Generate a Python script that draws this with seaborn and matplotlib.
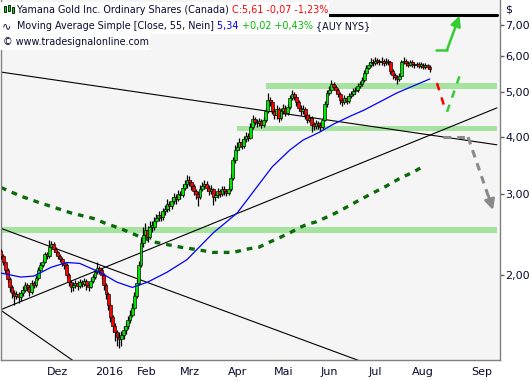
import numpy as np
import pandas as pd
import matplotlib
matplotlib.use("Agg")
import matplotlib.pyplot as plt
import seaborn as sns
from matplotlib.patches import Rectangle
from matplotlib.transforms import ScaledTranslation

# ---------------- data ----------------
open_first = 2.26
close = [2.20, 2.13, 2.05, 1.96, 1.88, 1.83, 1.80, 1.82, 1.79, 1.83,
         1.86, 1.90, 1.88, 1.84, 1.92, 1.90, 1.97, 2.05, 2.10, 2.14,
         2.22, 2.20, 2.30, 2.34, 2.28, 2.24, 2.20, 2.17, 2.12, 2.10,
         2.00, 1.93, 1.88, 1.90, 1.92, 1.89, 1.93, 1.91, 1.94, 1.90,
         1.88, 1.94, 1.98, 2.03, 2.07, 2.05, 2.00, 1.90, 1.82, 1.72,
         1.62, 1.55, 1.50, 1.47, 1.45, 1.48, 1.52, 1.55, 1.60, 1.64,
         1.70, 1.80, 1.92, 2.10, 2.35, 2.45, 2.50, 2.42, 2.55, 2.55,
         2.62, 2.66, 2.70, 2.68, 2.75, 2.78, 2.85, 2.82, 2.90, 2.96,
         2.93, 3.00, 2.98, 3.10, 3.15, 3.22, 3.18, 3.12, 3.05, 3.00,
         2.95, 3.08, 3.12, 3.15, 3.10, 3.05, 3.08, 2.95, 2.98, 3.05,
         3.00, 3.08, 3.04, 3.02, 3.08, 3.25, 3.55, 3.75, 3.80, 3.90,
         3.82, 3.95, 4.02, 3.98, 4.20, 4.38, 4.30, 4.28, 4.32, 4.25,
         4.35, 4.55, 4.80, 4.75, 4.55, 4.45, 4.60, 4.40, 4.55, 4.62,
         4.50, 4.65, 4.85, 4.95, 4.88, 4.75, 4.62, 4.55, 4.60, 4.45,
         4.35, 4.40, 4.25, 4.22, 4.28, 4.25, 4.20, 4.35, 4.70, 4.98,
         5.05, 5.20, 5.12, 5.05, 4.95, 4.80, 4.75, 4.85, 4.78, 4.90,
         4.95, 5.02, 5.05, 5.15, 5.20, 5.30, 5.50, 5.65, 5.72, 5.80,
         5.78, 5.85, 5.82, 5.80, 5.84, 5.78, 5.82, 5.80, 5.55, 5.45,
         5.40, 5.35, 5.42, 5.80, 5.85, 5.78, 5.74, 5.80, 5.76, 5.72,
         5.75, 5.70, 5.74, 5.68, 5.72, 5.66, 5.61]
high = [2.28, 2.22, 2.15, 2.07, 1.98, 1.90, 1.86, 1.85, 1.84, 1.86,
        1.89, 1.93, 1.92, 1.90, 1.95, 1.94, 2.00, 2.08, 2.13, 2.17,
        2.25, 2.25, 2.38, 2.37, 2.36, 2.30, 2.26, 2.22, 2.19, 2.14,
        2.12, 2.02, 1.95, 1.93, 1.95, 1.94, 1.96, 1.95, 1.97, 1.96,
        1.92, 1.97, 2.01, 2.06, 2.13, 2.09, 2.07, 2.02, 1.92, 1.84,
        1.74, 1.64, 1.57, 1.52, 1.50, 1.51, 1.55, 1.58, 1.63, 1.68,
        1.74, 1.84, 1.96, 2.15, 2.42, 2.55, 2.60, 2.56, 2.62, 2.62,
        2.68, 2.72, 2.76, 2.74, 2.80, 2.84, 2.92, 2.90, 2.96, 3.02,
        3.00, 3.06, 3.05, 3.16, 3.22, 3.30, 3.28, 3.22, 3.16, 3.08,
        3.04, 3.14, 3.18, 3.22, 3.20, 3.14, 3.14, 3.10, 3.04, 3.10,
        3.08, 3.12, 3.12, 3.08, 3.12, 3.32, 3.62, 3.84, 3.90, 3.98,
        3.95, 4.02, 4.10, 4.08, 4.28, 4.45, 4.42, 4.36, 4.40, 4.38,
        4.42, 4.62, 4.98, 4.88, 4.80, 4.62, 4.68, 4.64, 4.62, 4.70,
        4.68, 4.72, 4.92, 5.05, 5.00, 4.92, 4.80, 4.68, 4.68, 4.64,
        4.50, 4.48, 4.44, 4.30, 4.34, 4.32, 4.30, 4.42, 4.78, 5.05,
        5.15, 5.30, 5.26, 5.18, 5.10, 5.00, 4.86, 4.92, 4.90, 4.98,
        5.02, 5.10, 5.12, 5.22, 5.28, 5.38, 5.58, 5.74, 5.82, 5.92,
        5.90, 5.95, 5.94, 5.90, 5.95, 5.90, 5.92, 5.90, 5.84, 5.60,
        5.50, 5.45, 5.50, 5.88, 5.95, 5.90, 5.84, 5.88, 5.86, 5.82,
        5.82, 5.80, 5.82, 5.78, 5.78, 5.76, 5.72]
low = [2.17, 2.10, 2.02, 1.93, 1.84, 1.78, 1.72, 1.77, 1.74, 1.76,
       1.80, 1.84, 1.85, 1.80, 1.82, 1.87, 1.88, 1.95, 2.03, 2.08,
       2.12, 2.17, 2.18, 2.27, 2.25, 2.21, 2.17, 2.14, 2.09, 2.06,
       1.97, 1.89, 1.84, 1.85, 1.87, 1.86, 1.87, 1.88, 1.89, 1.86,
       1.85, 1.87, 1.92, 1.96, 2.01, 2.01, 1.96, 1.86, 1.77, 1.68,
       1.58, 1.50, 1.44, 1.40, 1.39, 1.40, 1.45, 1.49, 1.53, 1.57,
       1.62, 1.68, 1.78, 1.90, 2.08, 2.30, 2.40, 2.36, 2.40, 2.48,
       2.50, 2.58, 2.62, 2.62, 2.64, 2.70, 2.74, 2.76, 2.78, 2.86,
       2.86, 2.90, 2.92, 2.95, 3.06, 3.10, 3.12, 3.06, 2.98, 2.92,
       2.82, 2.92, 3.04, 3.08, 3.04, 2.98, 3.00, 2.84, 2.90, 2.94,
       2.95, 2.97, 2.99, 2.97, 2.98, 3.05, 3.22, 3.50, 3.70, 3.74,
       3.76, 3.78, 3.90, 3.92, 3.95, 4.15, 4.24, 4.20, 4.22, 4.18,
       4.20, 4.30, 4.50, 4.66, 4.48, 4.38, 4.38, 4.30, 4.34, 4.48,
       4.44, 4.45, 4.60, 4.80, 4.80, 4.66, 4.55, 4.46, 4.48, 4.36,
       4.28, 4.30, 4.10, 4.14, 4.16, 4.16, 4.12, 4.16, 4.32, 4.65,
       4.92, 5.00, 5.05, 4.98, 4.88, 4.72, 4.66, 4.70, 4.70, 4.74,
       4.85, 4.90, 4.96, 5.00, 5.10, 5.15, 5.25, 5.45, 5.60, 5.68,
       5.70, 5.72, 5.75, 5.72, 5.74, 5.70, 5.72, 5.72, 5.48, 5.35,
       5.30, 5.20, 5.28, 5.40, 5.75, 5.70, 5.66, 5.70, 5.68, 5.65,
       5.66, 5.64, 5.64, 5.60, 5.62, 5.60, 5.54]

ma55_idx = [0, 9, 15, 23, 30, 36, 45, 53, 60, 67, 76, 85, 97, 108, 117, 124,
            132, 138, 146, 152, 160, 166, 181, 196]
ma55_val = [2.02, 1.98, 1.99, 2.08, 2.13, 2.12, 2.03, 1.93, 1.88, 1.93, 2.03,
            2.16, 2.47, 2.73, 3.11, 3.44, 3.74, 3.93, 4.10, 4.26, 4.44, 4.57,
            4.98, 5.34]
ma200_idx = [0, 9, 17, 24, 32, 43, 47, 55, 62, 70, 82, 90, 97, 106, 113, 118,
             122, 128, 132, 136, 140, 144, 151, 155, 162, 169, 176, 182, 189, 194]
ma200_val = [3.10, 2.97, 2.88, 2.81, 2.73, 2.65, 2.60, 2.52, 2.44, 2.36, 2.30,
             2.27, 2.24, 2.24, 2.28, 2.30, 2.35, 2.42, 2.47, 2.53, 2.58, 2.61,
             2.70, 2.76, 2.88, 3.00, 3.12, 3.24, 3.36, 3.47]

month_pos = [20, 42, 61, 81, 103, 124, 145, 167, 187, 214]
month_labels = ["Dez", "2016", "Feb", "Mrz", "Apr", "Mai", "Jun", "Jul", "Aug", "Sep"]
price_ticks = [2, 3, 4, 5, 6, 7]
price_labels = ["2,00", "3,00", "4,00", "5,00", "6,00", "7,00"]

# zones: (low, high, start index)
zone_low = [5.08, 4.12, 2.47]
zone_high = [5.23, 4.22, 2.54]
zone_start = [121, 108, -1]

# trend lines: (x0, p0, x1, p1)
trend_lines = [(-0.3, 5.53, 226.7, 3.84),
               (-0.3, 2.53, 164.2, 1.30),
               (-0.3, 1.68, 36.3, 1.27),
               (-0.3, 1.68, 226.7, 4.62)]
top_level = 7.36

# ---------------- figure ----------------
W, H = 532, 380
sns.set_style("white")
plt.rcParams["font.family"] = ["DejaVu Sans"]
fig = plt.figure(figsize=(W / 100, H / 100), dpi=100)
fig.patch.set_facecolor("white")
ax = fig.add_axes([0.5 / W, 20 / H, 499.5 / W, 360 / H])
ax.set_facecolor("#f5f5f5")
ax.set_yscale("log")
XMIN, XMAX = -0.23, 228.1
ax.set_xlim(XMIN, XMAX)
ax.set_ylim(1.307, 7.93)

XR = 226.9
# support/resistance zones
for lo, hi, st in zip(zone_low, zone_high, zone_start):
    ax.fill_between([st, XR], [lo, lo], [hi, hi], color="#a6e3a0", lw=0, zorder=1)

# trend lines
for x0, p0, x1, p1 in trend_lines:
    ax.plot([x0, x1], [p0, p1], color="black", lw=0.8, zorder=2)
ax.plot([-0.3, XR], [top_level, top_level], color="black", lw=2.2, zorder=2)

# 200 MA (dark green dotted)
sns.lineplot(x=ma200_idx, y=ma200_val, ax=ax, color="#0b6b0b", lw=2.4,
             linestyle=(0, (1.7, 1.8)), estimator=None, sort=False, zorder=2)
# 55 MA (blue)
sns.lineplot(x=ma55_idx, y=ma55_val, ax=ax, color="#0000ff", lw=0.9,
             estimator=None, sort=False, zorder=5)

# candles
n = len(close)
opens = [open_first] + close[:-1]
df = pd.DataFrame({"i": np.arange(n), "open": opens, "close": close,
                   "high": high, "low": low})
up = df["close"] >= df["open"]
ax.vlines(df["i"], df["low"], df["high"], color="black", lw=0.9, zorder=3)
bot = np.minimum(df["open"], df["close"])
top = np.maximum(df["open"], df["close"])
hgt = np.maximum(top - bot, bot * 0.008)
ax.bar(df["i"], hgt, bottom=bot, width=1.3,
       color=np.where(up, "#00e600", "#ff0000"), edgecolor="black",
       linewidth=0.45, zorder=4)

# scenario arrows
g = "#33cc33"
ax.plot([198.9, 203.9], [6.18, 6.18], color=g, lw=1.8, zorder=6)
ax.annotate("", xy=(209.6, 7.33), xytext=(203.9, 6.18),
            arrowprops=dict(arrowstyle="-|>,head_length=0.6,head_width=0.3",
                            color=g, lw=1.8, shrinkA=0, shrinkB=0), zorder=6)
ax.plot([199.3, 203.4], [5.23, 4.53], color="#ff0000", lw=1.8,
        linestyle=(0, (3, 3)), zorder=6)
ax.plot([203.9, 209.8], [4.53, 5.45], color=g, lw=1.8,
        linestyle=(0, (3, 3)), zorder=6)
gr = "#8a8a8a"
ax.plot([202.1, 213.5], [3.99, 3.99], color=gr, lw=2.2, linestyle=(0, (2.5, 2)), zorder=6)
ax.plot([213.5, 223.5], [3.99, 2.90], color=gr, lw=2.2, linestyle=(0, (2.5, 2)), zorder=6)
ax.annotate("", xy=(224.9, 2.77), xytext=(223.0, 2.96),
            arrowprops=dict(arrowstyle="-|>,head_length=0.6,head_width=0.3",
                            color=gr, lw=2.0, shrinkA=0, shrinkB=0), zorder=6)

# axes styling
for s in ["left", "right", "bottom"]:
    ax.spines[s].set_color("#808080")
    ax.spines[s].set_linewidth(1)
ax.spines["top"].set_visible(False)

fs = 8.0
tc = "#0a0a30"
ax.yaxis.tick_right()
ax.set_yticks(price_ticks)
ax.set_yticklabels(price_labels)
ax.yaxis.set_minor_locator(matplotlib.ticker.NullLocator())
ax.tick_params(axis="y", which="major", direction="out", length=3, width=1,
               color="#606060", labelsize=fs, labelcolor=tc, pad=1)
ax.set_xticks(month_pos)
ax.set_xticklabels(month_labels, ha="left")
ax.tick_params(axis="x", direction="out", length=4, width=1, color="#404040",
               labelsize=fs, labelcolor=tc, pad=1)
shift = ScaledTranslation(2 / 100, 0, fig.dpi_scale_trans)
for lab in ax.get_xticklabels():
    lab.set_transform(lab.get_transform() + shift)
ax.set_xlabel("")
ax.set_ylabel("")
fig.text(505 / W, 1 - 9 / H, "$", fontsize=fs, color=tc, va="center", ha="left")

# header rows
fig.canvas.draw()
r = fig.canvas.get_renderer()

# fit header font so the title spans the same width as in the reference
probe = fig.text(0, 0, "Yamana Gold Inc. Ordinary Shares (Canada)", fontsize=10)
hfs = 10 * 213 / probe.get_window_extent(renderer=r).width
probe.remove()


def row(y_px, x_px, pieces):
    x = x_px
    for txt, col in pieces:
        t = fig.text(x / W, 1 - y_px / H, txt, fontsize=hfs, color=col,
                     va="center", ha="left", zorder=10)
        x += t.get_window_extent(renderer=r).width
    right = x + 1
    fig.patches.append(Rectangle((0, 1 - (y_px + 8) / H), right / W, 16 / H,
                                 transform=fig.transFigure, facecolor="white",
                                 edgecolor="none", zorder=9))
    return right


row(10, 17, [("Yamana Gold Inc. Ordinary Shares (Canada) ", tc),
             ("C:5,61 -0,07 -1,23%", "#ff0000")])
row(26, 17, [("Moving Average Simple [Close, 55, Nein] ", tc),
             ("5,34 ", "#0000ff"), ("+0,02 +0,43% ", "#00bb00"),
             ("{AUY NYS}", tc)])
row(42, 3, [("© www.tradesignalonline.com", tc)])
# icons
for k, lo in enumerate([3, 4, 2]):
    fig.patches.append(Rectangle(((4 + 4 * k) / W, 1 - (15 - lo) / H), 2.2 / W, 6 / H,
                                 transform=fig.transFigure, facecolor="#00e600",
                                 edgecolor="black", lw=0.6, zorder=11))
fig.text(2 / W, 1 - 26 / H, "∿", fontsize=hfs + 1, color=tc, va="center", ha="left", zorder=11)

fig.savefig("out.png", dpi=100)
